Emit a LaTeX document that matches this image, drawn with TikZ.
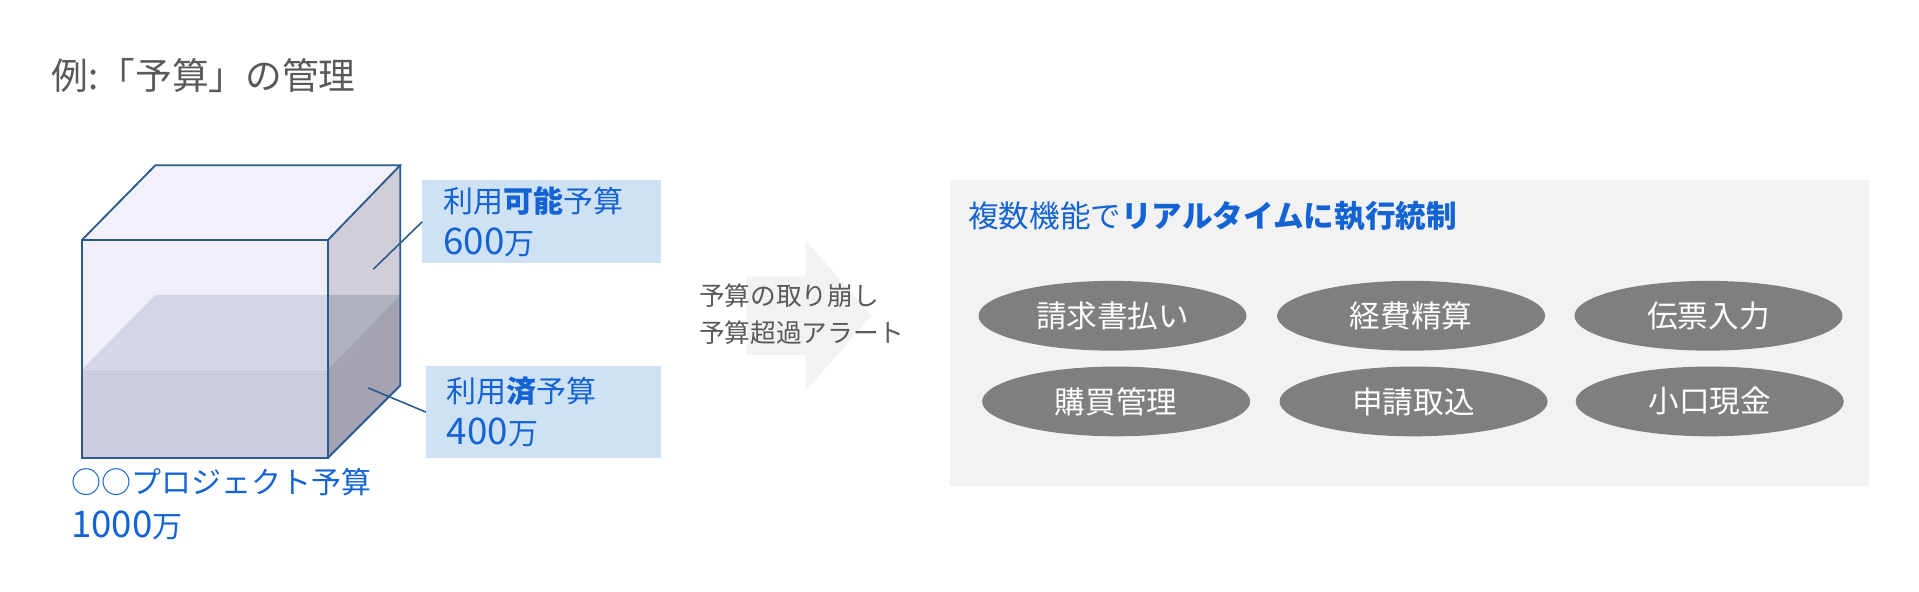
\documentclass[tikz,border=0pt]{standalone}
\usepackage{fontspec}
\setmainfont{Noto Sans CJK JP}
\usetikzlibrary{shapes.geometric}
\definecolor{titlegray}{HTML}{595959}
\definecolor{bluetext}{HTML}{1463D4}
\definecolor{edgeblue}{HTML}{2B5B8C}
\definecolor{boxblue}{HTML}{CFE2F3}
\definecolor{panelgray}{HTML}{F2F2F2}
\definecolor{ellgray}{HTML}{7F7F7F}
\definecolor{topface}{HTML}{F2F0F8}
\definecolor{frontface}{HTML}{F0EEF7}
\definecolor{rightface}{HTML}{D1CEDA}
\definecolor{liqtopfront}{HTML}{D4D5E6}
\definecolor{liqtopright}{HTML}{AFB1C1}
\definecolor{liqfront}{HTML}{CBCDDF}
\definecolor{liqright}{HTML}{A3A3B3}
\newcommand\bigdigits[1]{{\fontsize{30}{34}\selectfont #1}}
\tikzset{
  labelbox/.style={fill=boxblue, anchor=north west, align=left, inner xsep=17pt, inner ysep=0pt,
    font=\fontsize{24.5}{34}\selectfont, text=bluetext},
  funcell/.style={ellipse, fill=ellgray, minimum width=219pt, minimum height=57pt, inner sep=0pt,
    text=white, font=\fontsize{25}{30}\selectfont},
  leader/.style={draw=edgeblue, line width=1.3pt},
  cubeedge/.style={draw=edgeblue, line width=1.5pt, line join=miter}
}
\begin{document}
\begin{tikzpicture}[x=1pt,y=-1pt]
\useasboundingbox (0,0) rectangle (1568,483);

% title
\node[anchor=west, inner sep=0pt, text=titlegray, font=\fontsize{30}{36}\selectfont] (title) at (42,62) {例:「予算」の管理};

% cube coordinates
\coordinate (A) at (67,196);
\coordinate (B) at (268,196);
\coordinate (C) at (268,374);
\coordinate (D) at (67,374);
\coordinate (Ab) at (127,135);
\coordinate (Bb) at (327,135);
\coordinate (Cb) at (327,315);
% faces
\fill[topface] (A) -- (Ab) -- (Bb) -- (B) -- cycle;
\fill[frontface] (A) -- (B) -- (C) -- (D) -- cycle;
\fill[rightface] (B) -- (Bb) -- (Cb) -- (C) -- cycle;
% liquid
\fill[liqtopfront] (67,302) -- (127,241) -- (268,241) -- (268,302) -- cycle;
\fill[liqtopright] (268,241) -- (327,241) -- (268,302) -- cycle;
\fill[liqfront] (67,302) rectangle (268,374);
\fill[liqright] (268,302) -- (327,241) -- (327,315) -- (268,374) -- cycle;
% edges
\draw[cubeedge] (A) -- (B) -- (C) -- (D) -- cycle;
\draw[cubeedge] (A) -- (Ab) -- (Bb) -- (B);
\draw[cubeedge] (Bb) -- (Cb) -- (C);

% cube label
\node[anchor=west, inner sep=0pt, text=bluetext, font=\fontsize{24.5}{36}\selectfont, align=left] (cubelabel) at (58,412) {○○プロジェクト予算\\\bigdigits{1000}万};

% label boxes
\node[labelbox, minimum width=195pt, minimum height=68pt, text width=161pt] (box1) at (345,147) {利用\textbf{可能}予算\\\bigdigits{600}万};
\node[labelbox, minimum width=192pt, minimum height=75pt, text width=158pt] (box2) at (348,299) {利用\textbf{済}予算\\\bigdigits{400}万};
\coordinate (lead1) at (305,220);
\coordinate (lead2) at (301,317);
\draw[leader] (lead1) -- (box1.west);
\draw[leader] (lead2) -- (box2.west);

% arrow
\fill[panelgray] (610,226) -- (658,226) -- (658,196) -- (712,258) -- (658,320) -- (658,290) -- (610,290) -- cycle;
\node[anchor=west, inner sep=0pt, text=titlegray, font=\fontsize{21}{30}\selectfont, align=left] (arrowtext) at (571,257) {予算の取り崩し\\予算超過アラート};

% panel
\fill[panelgray] (776,147) rectangle (1527,397);
\node[anchor=west, inner sep=0pt, text=bluetext, font=\fontsize{25}{30}\selectfont] (paneltitle) at (791,177) {複数機能で\textbf{リアルタイムに執行統制}};

\node[funcell] (f1) at (909,258) {請求書払い};
\node[funcell] (f2) at (1153,258) {経費精算};
\node[funcell] (f3) at (1396,258) {伝票入力};
\node[funcell] (f4) at (912,328) {購買管理};
\node[funcell] (f5) at (1155,328) {申請取込};
\node[funcell] (f6) at (1397,328) {小口現金};
\end{tikzpicture}
\end{document}
